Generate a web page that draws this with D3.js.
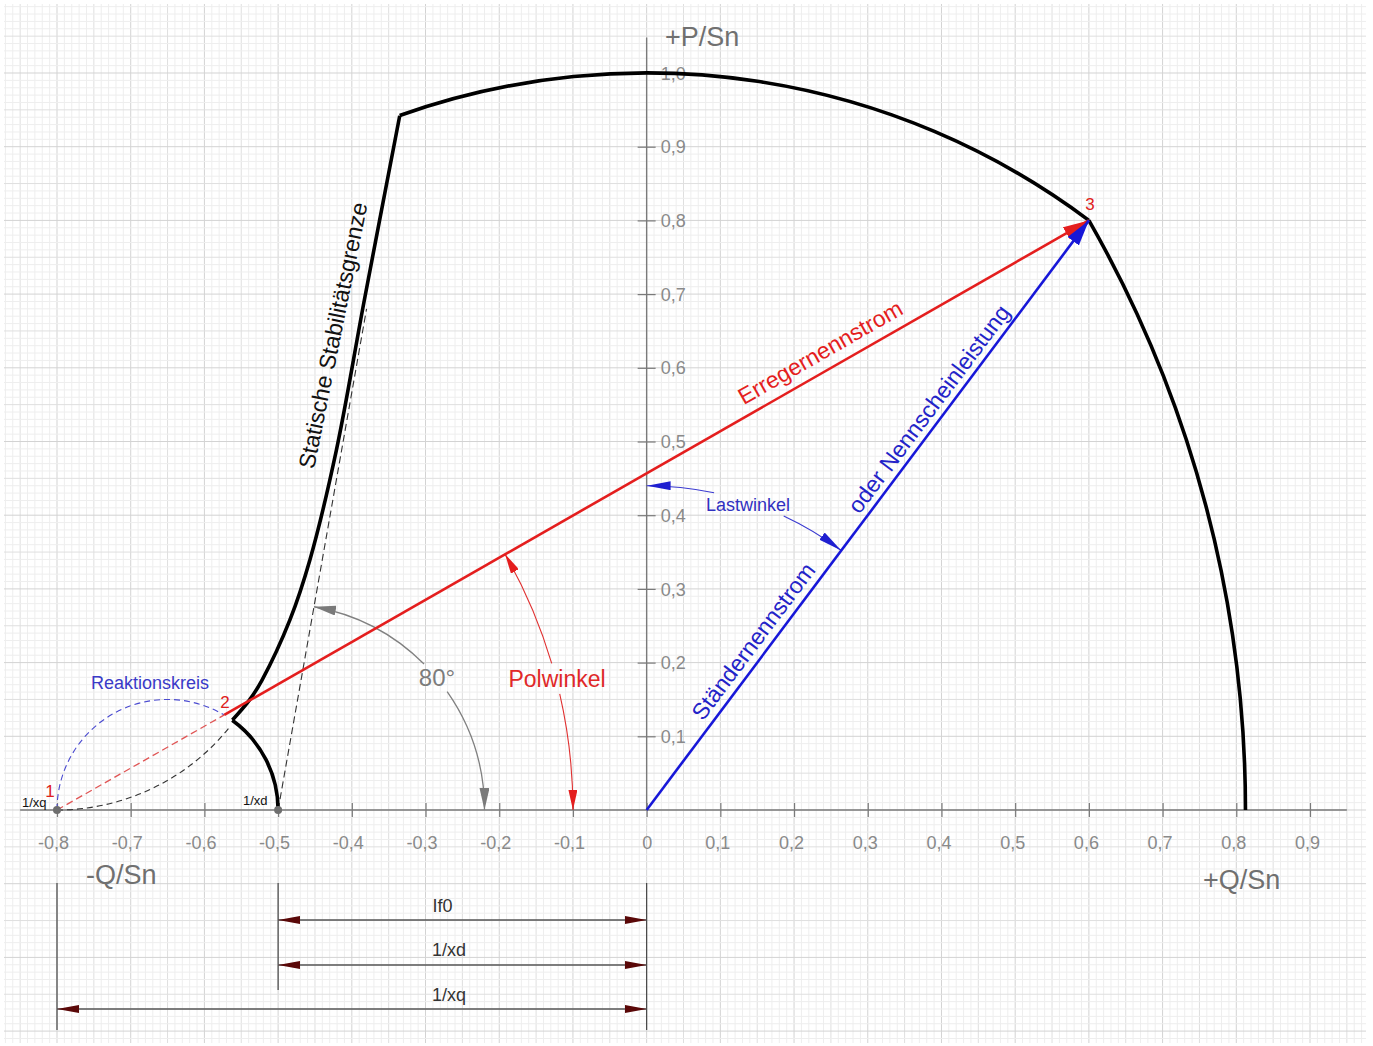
<!DOCTYPE html>
<html>
<head>
<meta charset="utf-8">
<title>Leistungsdiagramm Synchronmaschine</title>
<script src="https://d3js.org/d3.v7.min.js"></script>
<style>
body{margin:0;background:#fff;}
svg text{font-family:"Liberation Sans",Arial,sans-serif;}
</style>
</head>
<body>
<script>
var w = 1373, h = 1046;

// ticks
var xTicks = [-0.8,-0.7,-0.6,-0.5,-0.4,-0.3,-0.2,-0.1,0,0.1,0.2,0.3,0.4,0.5,0.6,0.7,0.8,0.9];
var xTickLabels = ["-0,8","-0,7","-0,6","-0,5","-0,4","-0,3","-0,2","-0,1","0","0,1","0,2","0,3","0,4","0,5","0,6","0,7","0,8","0,9"];
var yTicks = [0.1,0.2,0.3,0.4,0.5,0.6,0.7,0.8,0.9,1.0];
var yTickLabels = ["0,1","0,2","0,3","0,4","0,5","0,6","0,7","0,8","0,9","1,0"];

// characteristic points [Q/Sn, P/Sn]
var pointXq = [-0.8, 0];
var pointXd = [-0.5, 0];
var point2 = [-0.573, 0.129];
var point3 = [0.6, 0.8];
var cusp = [-0.562, 0.122];
var corner = [-0.335, 0.942];
var fieldEnd = [0.8125, 0];
var dashEnd80 = [-0.38, 0.68];
var theoryEnd = [-0.565, 0.115];

// static stability limit
var stabilityCurve = [[-0.562,0.122],[-0.539,0.149],[-0.522,0.176],[-0.484,0.258],[-0.457,0.339],[-0.421,0.488],[-0.383,0.692],[-0.335,0.942]];

// circle centres / radii
var reaktionsCenter = [-0.65, 0], reaktionsR = 0.15;
var statorCenter = [0, 0], statorR = 1.0;
var theoryCenter = [-0.8, 0.3], theoryR = 0.3;

// angle markers: centre, radius, two pieces [from, to] in degrees
var lastWinkel = {c:[0,0], r:0.44, pieces:[[78,90],[65,53.13]]};
var winkel80 = {c:[-0.5,0], r:0.28, pieces:[[45,80],[35,0]]};
var polWinkel = {c:[-0.8,0], r:0.70, pieces:[[16.5,29.74],[13,0]]};

// dimension lines below the axis
var dimensions = [
  {label:"If0", from:-0.5, to:0, ty:912, tx:-0.277},
  {label:"1/xd", from:-0.5, to:0, ty:956, tx:-0.268},
  {label:"1/xq", from:-0.8, to:0, ty:1001, tx:-0.268}
];
var dimY = [920, 965, 1009];

var svg = d3.select("body").append("svg").attr("width",w).attr("height",h);

var x = d3.scaleLinear().domain([-0.8,0.9]).range([57,1310]);
var y = d3.scaleLinear().domain([0,1]).range([810,73]);
var k = x(1) - x(0);

function deg(c, p){ return Math.atan2(p[1]-c[1], p[0]-c[0]) * 180 / Math.PI; }
function dist(a, b){ return Math.sqrt((a[0]-b[0])*(a[0]-b[0]) + (a[1]-b[1])*(a[1]-b[1])); }
function arcPath(c, r, a0, a1){
  var p = d3.path();
  p.arc(x(c[0]), y(c[1]), r*k, -a0*Math.PI/180, -a1*Math.PI/180, a1 > a0);
  return p.toString();
}

// grid
var grid = svg.append("g");
var gx0 = 4, gx1 = 1366, gy0 = 4, gy1 = 1043;
function gridColor(i){ return i % 10 == 0 ? "#d3d3d3" : (i % 5 == 0 ? "#dfdfdf" : "#eeeeee"); }
var vIdx = d3.range(-87, 98), hIdx = d3.range(-31, 110);
vIdx.sort(function(a,b){ return (a%5==0) - (b%5==0) || (a%10==0) - (b%10==0); });
hIdx.sort(function(a,b){ return (a%5==0) - (b%5==0) || (a%10==0) - (b%10==0); });
grid.selectAll("line.v").data(vIdx).enter().append("line")
  .attr("x1", function(d){ return x(d/100); }).attr("x2", function(d){ return x(d/100); })
  .attr("y1", gy0).attr("y2", gy1)
  .attr("stroke", function(d){ return gridColor(Math.abs(d)); }).attr("stroke-width", 1);
grid.selectAll("line.h").data(hIdx).enter().append("line")
  .attr("y1", function(d){ return y(d/100); }).attr("y2", function(d){ return y(d/100); })
  .attr("x1", gx0).attr("x2", gx1)
  .attr("stroke", function(d){ return gridColor(Math.abs(d)); }).attr("stroke-width", 1);

// markers
var defs = svg.append("defs");
function marker(id, color, len, wid){
  defs.append("marker").attr("id", id).attr("markerUnits","userSpaceOnUse")
    .attr("markerWidth", len).attr("markerHeight", wid)
    .attr("refX", len).attr("refY", wid/2).attr("orient","auto-start-reverse")
    .append("path").attr("d","M0,0L"+len+","+(wid/2)+"L0,"+wid+"Z").attr("fill", color);
}
marker("arRed", "#e41e1e", 26, 14);
marker("arBlue", "#1717d8", 26, 14);
marker("arRedS", "#e41e1e", 20, 9);
marker("arBlueS", "#1f1fd0", 24, 9);
marker("arGray", "#7a7a7a", 22, 10);
marker("arDim", "#5a0808", 22, 8);

// axes
svg.append("line").attr("x1", x(-0.85)).attr("x2", x(0.95)).attr("y1", y(0)).attr("y2", y(0))
  .attr("stroke","#7a7a7a").attr("stroke-width",1.4);
svg.append("line").attr("x1", x(0)).attr("x2", x(0)).attr("y1", y(1.048)).attr("y2", y(0))
  .attr("stroke","#7a7a7a").attr("stroke-width",1.4);

var xAxis = d3.axisBottom(x).tickValues(xTicks).tickFormat(function(d,i){ return xTickLabels[i]; });
var gxa = svg.append("g").attr("transform","translate(0,"+y(0)+")").call(xAxis)
  .attr("font-size",18).attr("font-family","Liberation Sans, Arial, sans-serif");
gxa.select(".domain").remove();
gxa.selectAll(".tick line").attr("y1",-7).attr("y2",7).attr("stroke","#7a7a7a").attr("stroke-width",1.2);
gxa.selectAll(".tick text").attr("y",39).attr("dy",null).attr("fill","#8a8a8a")
  .attr("dx", function(d){ return d < 0 ? -4 : (d > 0 ? -3 : 0); });

var yAxis = d3.axisRight(y).tickValues(yTicks).tickFormat(function(d,i){ return yTickLabels[i]; });
var gya = svg.append("g").attr("transform","translate("+x(0)+",0)").call(yAxis)
  .attr("font-size",18).attr("font-family","Liberation Sans, Arial, sans-serif");
gya.select(".domain").remove();
gya.selectAll(".tick line").attr("x1",-9).attr("x2",9).attr("stroke","#7a7a7a").attr("stroke-width",1.2);
gya.selectAll(".tick text").attr("x",14).attr("dy","0.34em").attr("fill","#8a8a8a");

// axis titles
svg.append("text").attr("x",665).attr("y",46).attr("font-size",27).attr("fill","#707070").text("+P/Sn");
svg.append("text").attr("x",86).attr("y",884).attr("font-size",27).attr("fill","#707070").text("-Q/Sn");
svg.append("text").attr("x",1203).attr("y",889).attr("font-size",27).attr("fill","#707070").text("+Q/Sn");

// dashed construction lines
svg.append("path").attr("d", arcPath(reaktionsCenter, reaktionsR, 180, deg(reaktionsCenter, point2)))
  .attr("fill","none").attr("stroke","#4a4ad0").attr("stroke-width",1.1).attr("stroke-dasharray","6,4");
svg.append("path").attr("d", arcPath(theoryCenter, theoryR, -90, deg(theoryCenter, theoryEnd)))
  .attr("fill","none").attr("stroke","#333").attr("stroke-width",1.1).attr("stroke-dasharray","6,4");
svg.append("line").attr("x1", x(pointXq[0])).attr("y1", y(pointXq[1])).attr("x2", x(point2[0])).attr("y2", y(point2[1]))
  .attr("stroke","#e05555").attr("stroke-width",1.3).attr("stroke-dasharray","7,4");
svg.append("line").attr("x1", x(pointXd[0])).attr("y1", y(pointXd[1])).attr("x2", x(dashEnd80[0])).attr("y2", y(dashEnd80[1]))
  .attr("stroke","#333").attr("stroke-width",1.1).attr("stroke-dasharray","7,4");

// operating limit (thick black)
var limit = svg.append("g").attr("fill","none").attr("stroke","#000").attr("stroke-width",3.6)
  .attr("stroke-linejoin","miter").attr("stroke-linecap","butt");
limit.append("path").attr("d", arcPath(reaktionsCenter, reaktionsR, deg(reaktionsCenter, pointXd), deg(reaktionsCenter, cusp)));
limit.append("path").attr("d", d3.line().x(function(d){ return x(d[0]); }).y(function(d){ return y(d[1]); })
  .curve(d3.curveCatmullRom.alpha(0.5))(stabilityCurve));
limit.append("path").attr("d", arcPath(statorCenter, statorR, deg(statorCenter, corner), deg(statorCenter, point3)));
limit.append("path").attr("d", arcPath(pointXq, dist(pointXq, point3), deg(pointXq, point3), deg(pointXq, fieldEnd)));

// angle markers
function angleMarker(m, color, mk, sw){
  m.pieces.forEach(function(pc){
    svg.append("path").attr("d", arcPath(m.c, m.r, pc[0], pc[1]))
      .attr("fill","none").attr("stroke", color).attr("stroke-width", sw)
      .attr("marker-end","url(#"+mk+")");
  });
}
angleMarker(winkel80, "#808080", "arGray", 1.3);
angleMarker(polWinkel, "#e03030", "arRedS", 1.1);
angleMarker(lastWinkel, "#3a3ad0", "arBlueS", 1.1);

// main vectors
svg.append("line").attr("x1", x(point2[0])).attr("y1", y(point2[1])).attr("x2", x(point3[0])).attr("y2", y(point3[1]))
  .attr("stroke","#e41e1e").attr("stroke-width",2.6).attr("marker-end","url(#arRed)");
svg.append("line").attr("x1", x(0)).attr("y1", y(0)).attr("x2", x(point3[0])).attr("y2", y(point3[1]))
  .attr("stroke","#1717d8").attr("stroke-width",2.6).attr("marker-end","url(#arBlue)");

// points on axis
svg.selectAll("circle.pt").data([pointXq, pointXd]).enter().append("circle")
  .attr("cx", function(d){ return x(d[0]); }).attr("cy", function(d){ return y(d[1]); })
  .attr("r",4).attr("fill","#6e6e6e");

// labels along lines
function labelAlong(p0, p1, t, off, txt, size, color){
  var X0 = x(p0[0]), Y0 = y(p0[1]), X1 = x(p1[0]), Y1 = y(p1[1]);
  var dx = X1-X0, dy = Y1-Y0, len = Math.sqrt(dx*dx+dy*dy);
  var ux = dx/len, uy = dy/len;
  var cx = X0 + t*dx + off*uy, cy = Y0 + t*dy - off*ux;
  var ang = Math.atan2(dy, dx) * 180 / Math.PI;
  svg.append("text").attr("transform","translate("+cx+","+cy+") rotate("+ang+")")
    .attr("text-anchor","middle").attr("dy","0.35em").attr("font-size",size).attr("fill",color).text(txt);
}
labelAlong(point2, point3, 0.70, 19, "Erregernennstrom", 23, "#e41e1e");
labelAlong([0,0], point3, 0.665, 15, "oder Nennscheinleistung", 23, "#2323c8");
labelAlong([0,0], point3, 0.27, 16, "Ständernennstrom", 23, "#2323c8");
labelAlong(stabilityCurve[4], stabilityCurve[7], 0.496, 22, "Statische Stabilitätsgrenze", 23, "#111");

// free labels
svg.append("text").attr("x",150).attr("y",689).attr("text-anchor","middle").attr("font-size",18).attr("fill","#3a3ac8").text("Reaktionskreis");
svg.append("text").attr("x",748).attr("y",511).attr("text-anchor","middle").attr("font-size",18).attr("fill","#3030c0").text("Lastwinkel");
svg.append("text").attr("x",437).attr("y",686).attr("text-anchor","middle").attr("font-size",24).attr("fill","#7c7c7c").text("80°");
svg.append("text").attr("x",557).attr("y",687).attr("text-anchor","middle").attr("font-size",23).attr("fill","#e02828").text("Polwinkel");

svg.append("text").attr("x",50).attr("y",797).attr("text-anchor","middle").attr("font-size",17).attr("fill","#e02020").text("1");
svg.append("text").attr("x",225).attr("y",708).attr("text-anchor","middle").attr("font-size",17).attr("fill","#e02020").text("2");
svg.append("text").attr("x",1090).attr("y",210).attr("text-anchor","middle").attr("font-size",17).attr("fill","#e02020").text("3");
svg.append("text").attr("x",22).attr("y",807).attr("font-size",13).attr("fill","#111").text("1/xq");
svg.append("text").attr("x",243).attr("y",805).attr("font-size",13).attr("fill","#111").text("1/xd");

// dimension lines
var dimG = svg.append("g");
[[pointXq[0], 1030], [pointXd[0], 990], [0, 1030]].forEach(function(e){
  dimG.append("line").attr("x1", x(e[0])).attr("x2", x(e[0])).attr("y1", 883).attr("y2", e[1])
    .attr("stroke","#444").attr("stroke-width",1.2);
});
dimensions.forEach(function(d, i){
  dimG.append("line").attr("x1", x(d.from)).attr("x2", x(d.to)).attr("y1", dimY[i]).attr("y2", dimY[i])
    .attr("stroke","#555").attr("stroke-width",1.3)
    .attr("marker-start","url(#arDim)").attr("marker-end","url(#arDim)");
  dimG.append("text").attr("x", x(d.tx)).attr("y", d.ty).attr("text-anchor","middle")
    .attr("font-size",18).attr("fill","#333").text(d.label);
});
</script>
</body>
</html>
